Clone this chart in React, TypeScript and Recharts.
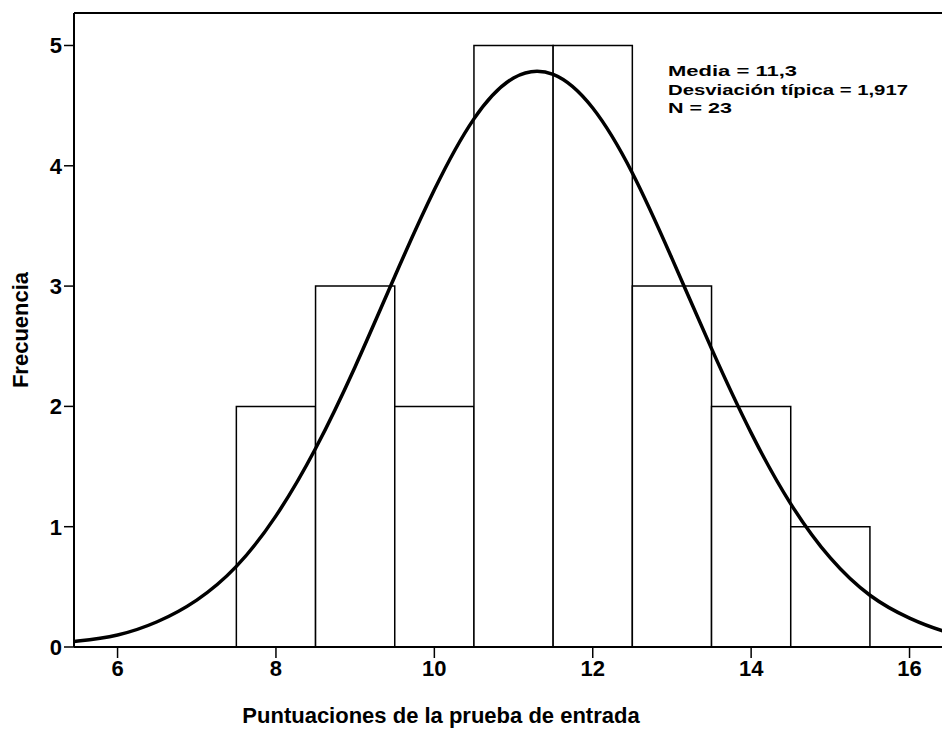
import {
  ComposedChart,
  Line,
  XAxis,
  YAxis,
  ReferenceArea,
  ReferenceLine,
  Label,
} from "recharts";

// histogram bins (width 1) and their frequencies
const binStarts = [7.5, 8.5, 9.5, 10.5, 11.5, 12.5, 13.5, 14.5];
const frequencies = [2, 3, 2, 5, 5, 3, 2, 1];

// normal curve
const curveX = [
  5, 5.5, 6, 6.5, 7, 7.5, 8, 8.5, 9, 9.5, 10, 10.5, 11, 11.5, 12, 12.5, 13,
  13.5, 14, 14.5, 15, 15.5, 16, 16.5, 17,
];
const curveY = [
  0.02, 0.05, 0.1, 0.21, 0.39, 0.67, 1.09, 1.65, 2.33, 3.08, 3.8, 4.39, 4.73,
  4.76, 4.48, 3.94, 3.23, 2.48, 1.78, 1.19, 0.74, 0.43, 0.24, 0.12, 0.06,
];

const xTicks = [6, 8, 10, 12, 14, 16];
const yTicks = [0, 1, 2, 3, 4, 5];

const statsLines = ["Media = 11,3", "Desviación típica = 1,917", "N = 23"];
const statsWidths = [129, 240, 64];

const curveData = curveX.map((x, i) => ({ x, y: curveY[i] }));

const FONT = '"Liberation Sans", Arial, sans-serif';
const Y_TOP = 5.27;

const tickStyle = {
  fontFamily: FONT,
  fontSize: 22,
  fontWeight: 700,
  fill: "#000",
};

const App = () => {
  return (
    <div
      style={{
        position: "absolute",
        left: 0,
        top: 0,
        width: 942,
        height: 729,
        overflow: "hidden",
        background: "#fff",
      }}
    >
      <ComposedChart
        width={942}
        height={729}
        data={curveData}
        margin={{ top: 13, right: 0, bottom: 0, left: 0 }}
      >
        <XAxis
          dataKey="x"
          type="number"
          domain={[5.45, 16.41]}
          allowDataOverflow
          ticks={xTicks}
          tickSize={11}
          height={82}
          tick={tickStyle}
          axisLine={{ stroke: "#000", strokeWidth: 2 }}
          tickLine={{ stroke: "#000", strokeWidth: 1.5 }}
        >
          <Label
            value="Puntuaciones de la prueba de entrada"
            position="insideBottom"
            offset={6}
            dx={-67}
            style={{
              fontFamily: FONT,
              fontSize: 22,
              fontWeight: 700,
              fill: "#000",
            }}
          />
        </XAxis>
        <YAxis
          type="number"
          domain={[0, Y_TOP]}
          allowDataOverflow
          ticks={yTicks}
          tickSize={10}
          width={74}
          tick={tickStyle}
          axisLine={{ stroke: "#000", strokeWidth: 2 }}
          tickLine={{ stroke: "#000", strokeWidth: 1.5 }}
        >
          <Label
            value="Frecuencia"
            position="insideLeft"
            angle={-90}
            offset={20}
            style={{
              textAnchor: "middle",
              fontFamily: FONT,
              fontSize: 22,
              fontWeight: 700,
              fill: "#000",
            }}
          />
        </YAxis>

        {binStarts.map((start, i) => (
          <ReferenceArea
            key={start}
            x1={start}
            x2={start + 1}
            y1={0}
            y2={frequencies[i]}
            fill="#fff"
            fillOpacity={1}
            stroke="#000"
            strokeWidth={1.5}
          />
        ))}

        <ReferenceLine y={Y_TOP} stroke="#000" strokeWidth={2} />

        <Line
          type="natural"
          dataKey="y"
          stroke="#000"
          strokeWidth={3.5}
          dot={false}
          activeDot={false}
          isAnimationActive={false}
        />
      </ComposedChart>

      {/* stats box */}
      <svg
        width={942}
        height={729}
        style={{ position: "absolute", left: 0, top: 0, pointerEvents: "none" }}
      >
        {statsLines.map((line, i) => (
          <text
            key={line}
            x={668}
            y={76 + i * 18.5}
            textLength={statsWidths[i]}
            lengthAdjust="spacingAndGlyphs"
            fontFamily={FONT}
            fontSize={15}
            fontWeight={700}
            fill="#000"
          >
            {line}
          </text>
        ))}
      </svg>
    </div>
  );
};

export default App;
